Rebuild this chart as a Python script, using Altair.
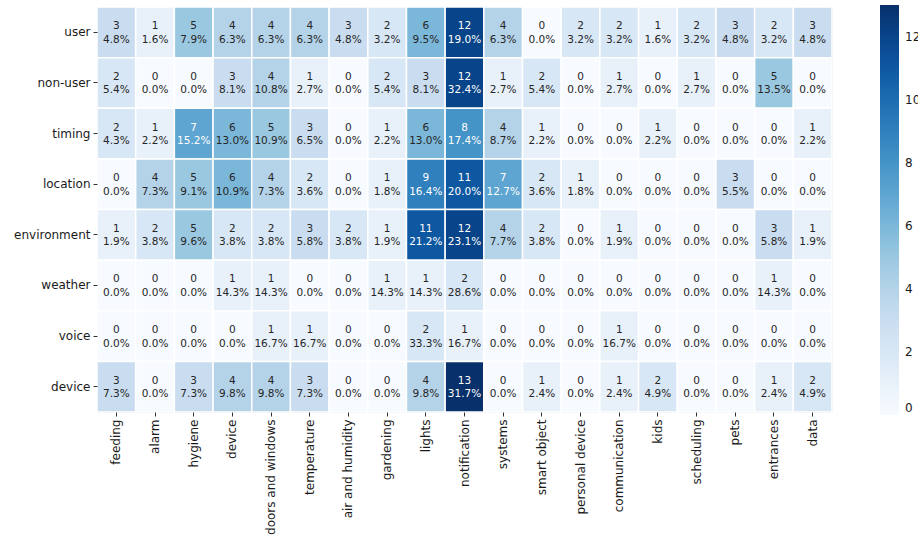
import altair as alt
import pandas as pd

rows = ["user", "non-user", "timing", "location", "environment", "weather", "voice", "device"]
cols = ["feeding", "alarm", "hygiene", "device", "doors and windows", "temperature",
        "air and humidity", "gardening", "lights", "notification", "systems",
        "smart object", "personal device", "communication", "kids", "scheduling",
        "pets", "entrances", "data"]

user = [3, 1, 5, 4, 4, 4, 3, 2, 6, 12, 4, 0, 2, 2, 1, 2, 3, 2, 3]
non_user = [2, 0, 0, 3, 4, 1, 0, 2, 3, 12, 1, 2, 0, 1, 0, 1, 0, 5, 0]
timing = [2, 1, 7, 6, 5, 3, 0, 1, 6, 8, 4, 1, 0, 0, 1, 0, 0, 0, 1]
location = [0, 4, 5, 6, 4, 2, 0, 1, 9, 11, 7, 2, 1, 0, 0, 0, 3, 0, 0]
environment = [1, 2, 5, 2, 2, 3, 2, 1, 11, 12, 4, 2, 0, 1, 0, 0, 0, 3, 1]
weather = [0, 0, 0, 1, 1, 0, 0, 1, 1, 2, 0, 0, 0, 0, 0, 0, 0, 1, 0]
voice = [0, 0, 0, 0, 1, 1, 0, 0, 2, 1, 0, 0, 0, 1, 0, 0, 0, 0, 0]
device = [3, 0, 3, 4, 4, 3, 0, 0, 4, 13, 0, 1, 0, 1, 2, 0, 0, 1, 2]

colorbar_ticks = [0, 2, 4, 6, 8, 10, 12]
vmax = 13
blues9 = ["#f7fbff", "#deebf7", "#c6dbef", "#9ecae1", "#6baed6",
          "#4292c6", "#2171b5", "#08519c", "#08306b"]
color_domain = [vmax * i / 8 for i in range(9)]

matrix = [user, non_user, timing, location, environment, weather, voice, device]
records = []
for r, vals in zip(rows, matrix):
    total = sum(vals)
    for c, v in zip(cols, vals):
        pct = 100.0 * v / total if total else 0.0
        records.append({"row": r, "col": c, "count": v,
                        "label": f"{v}\n{pct:.1f}%"})
df = pd.DataFrame(records)

FONT = "DejaVu Sans"

base = alt.Chart(df).encode(
    x=alt.X("col:N", sort=cols, title=None,
            axis=alt.Axis(labelAngle=270, labelFontSize=12, labelFont=FONT,
                          labelColor="#1a1a1a", domain=False, tickSize=4,
                          tickColor="#333333", labelPadding=3)),
    y=alt.Y("row:N", sort=rows, title=None,
            axis=alt.Axis(labelFontSize=12, labelFont=FONT, labelColor="#1a1a1a",
                          domain=False, tickSize=4, tickColor="#333333",
                          labelPadding=3)),
)

rects = base.mark_rect(stroke="white", strokeWidth=1.5).encode(
    color=alt.Color("count:Q",
                    scale=alt.Scale(domain=color_domain, range=blues9,
                                    interpolate="rgb"),
                    legend=alt.Legend(title=None, orient="none", legendX=783,
                                      legendY=-2, direction="vertical",
                                      gradientLength=410, gradientThickness=19,
                                      values=colorbar_ticks, labelFontSize=12,
                                      labelFont=FONT, labelColor="#1a1a1a",
                                      labelOffset=6, labelOverlap=False,
                                      gradientStrokeWidth=0)),
)

texts = base.mark_text(font=FONT, fontSize=10.5, lineBreak="\n", lineHeight=13.5,
                       baseline="middle", dy=-6).encode(
    text="label:N",
    color=alt.condition("datum.count >= 7", alt.value("white"), alt.value("#262626")),
)

chart = (rects + texts).properties(
    width=735, height=405,
    autosize=alt.AutoSizeParams(type="none"),
    padding={"left": 97, "top": 7, "right": 86, "bottom": 128},
).configure_view(stroke=None).configure(background="white")

chart.save("out.html", embed_options={"renderer": "svg", "actions": False})
